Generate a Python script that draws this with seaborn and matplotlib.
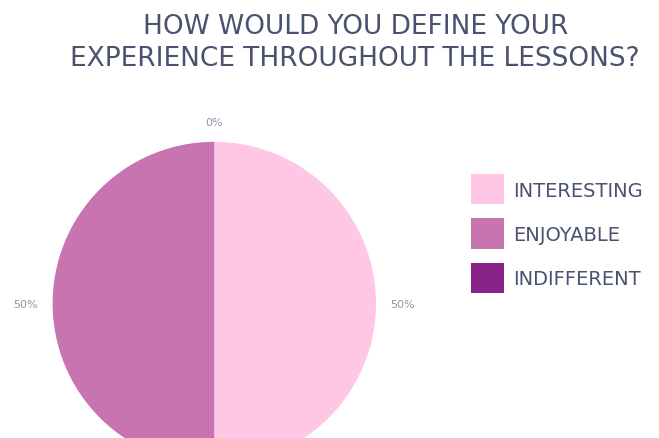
import numpy as np
import matplotlib
matplotlib.use("Agg")
import matplotlib.pyplot as plt
import seaborn as sns

categories = ["INTERESTING", "ENJOYABLE", "INDIFFERENT"]
shares = [50, 50, 0]
colors = ["#FFC6E6", "#C774B1", "#8A2389"]
title_lines = ["HOW WOULD YOU DEFINE YOUR", "EXPERIENCE THROUGHOUT THE LESSONS?"]

sns.set_theme(style="white")
plt.rcParams["font.family"] = ["DejaVu Sans"]

text_color = "#4B5170"
label_color = "#9296A8"

fig = plt.figure(figsize=(6.59, 4.39), dpi=100)
fig.patch.set_facecolor("white")

# pie area: square in pixels, running past the lower edge of the figure
W, H = 659, 439
cx, cy, r = 214.3, 304.5, 161.7
ax = fig.add_axes([(cx - r) / W, (H - cy - r) / H, 2 * r / W, 2 * r / H])
ax.axis("off")

wedges, _ = ax.pie(shares, colors=colors, startangle=90, counterclock=False,
                   radius=1, wedgeprops=dict(linewidth=0), normalize=True)
ax.set_aspect("auto")
ax.set_xlim(-1, 1)
ax.set_ylim(-1, 1)

# percentage labels just outside each wedge
total = sum(shares)
angle = 90.0
for v in shares:
    sweep = 360.0 * v / total
    mid = np.deg2rad(angle - sweep / 2)
    angle -= sweep
    x, y = np.cos(mid), np.sin(mid)
    ha = "center" if abs(x) < 0.3 else ("left" if x > 0 else "right")
    va = "center" if abs(y) < 0.3 else ("bottom" if y > 0 else "top")
    rr = 1.09
    ax.text(rr * x, rr * y, f"{v}%", ha=ha, va=va, fontsize=8,
            color=label_color)

fig.text(0.539, 1 - 33.5 / H, title_lines[0], ha="center", va="baseline",
         fontsize=19, color=text_color)
fig.text(0.539, 1 - 65.5 / H, title_lines[1], ha="center", va="baseline",
         fontsize=19, color=text_color)

leg = fig.legend(wedges, categories, loc="center left",
                 bbox_to_anchor=(471 / W, 1 - 234.5 / H), frameon=False,
                 fontsize=14, handlelength=1.70, handleheight=2.0,
                 handletextpad=0.46, labelspacing=0.72, borderpad=0,
                 borderaxespad=0)
for t in leg.get_texts():
    t.set_color(text_color)

fig.savefig("out.png", dpi=100, facecolor="white")
